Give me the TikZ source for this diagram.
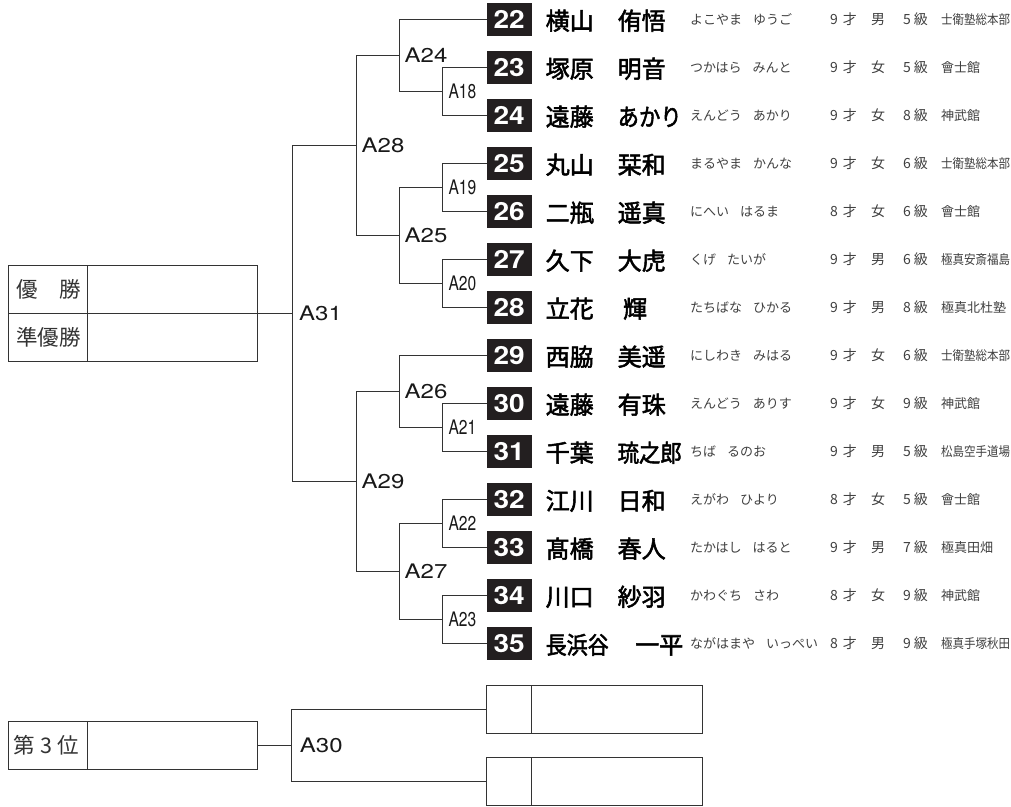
\documentclass[tikz,border=0pt]{standalone}
\usepackage{fontspec}
\usepackage{graphicx}
\newfontfamily\jp{Noto Sans CJK JP}
\newfontfamily\jpm[FakeBold=2.2]{Noto Sans CJK JP}
\newfontfamily\lat{TeX Gyre Heros}
\newcommand\fitw[2]{\sbox0{#2}\ifdim\wd0>#1\relax\resizebox{#1}{\height}{#2}\else\usebox0\fi}
\newcommand\rsp{\hspace{11pt}}
\definecolor{ink}{HTML}{333333}
\definecolor{txt}{HTML}{404040}
\definecolor{boxfill}{HTML}{231F20}
\begin{document}
\begin{tikzpicture}[x=1pt,y=-1pt,
 ln/.style={draw=ink,line width=0.9pt},
 cell/.style={draw=ink,line width=1pt,inner sep=0pt},
 numbox/.style={fill=boxfill,minimum width=45pt,minimum height=33pt,inner sep=0pt,text=white,font=\lat\bfseries\fontsize{25}{25}\selectfont},
 nm/.style={anchor=base west,inner sep=0pt,font=\jpm\fontsize{24}{24}\selectfont,text=black},
 rd/.style={anchor=base west,inner sep=0pt,font=\jp\fontsize{13}{13}\selectfont,text=txt},
 info/.style={anchor=base west,inner sep=0pt,font=\jp\fontsize{14}{14}\selectfont,text=txt},
 club/.style={anchor=base west,inner sep=0pt,font=\jp\fontsize{13}{13}\selectfont,text=txt},
 big/.style={anchor=west,inner sep=0pt,font=\lat\fontsize{20}{20}\selectfont,text=black!90},
 small/.style={anchor=west,inner sep=0pt,font=\lat\fontsize{20}{20}\selectfont,text=black!90},
 boxlab/.style={anchor=base west,inner sep=0pt,font=\jp\fontsize{21.5}{21.5}\selectfont,text=ink}
]
\fill[white] (0,0) rectangle (1011,806);
\useasboundingbox (0,0) rectangle (1011,806);

% player rows
\foreach \n/\y/\s/\gx/\g/\r/\a/\sx/\gr/\c in {
22/19.3/横山/617.5/侑悟/よこやま\rsp ゆうご/9/男/5/士衛塾総本部,
23/67.3/塚原/617.5/明音/つかはら\rsp みんと/9/女/5/會士館,
24/115.3/遠藤/617.5/あかり/えんどう\rsp あかり/9/女/8/神武館,
25/163.3/丸山/617.5/栞和/まるやま\rsp かんな/9/女/6/士衛塾総本部,
26/211.3/二瓶/617.5/遥真/にへい\rsp はるま/8/女/6/會士館,
27/259.3/久下/617.5/大虎/くげ\rsp たいが/9/男/6/極真安斎福島,
28/307.3/立花/623/輝/たちばな\rsp ひかる/9/男/8/極真北杜塾,
29/355.3/西脇/617.5/美遥/にしわき\rsp みはる/9/女/6/士衛塾総本部,
30/403.3/遠藤/617.5/有珠/えんどう\rsp ありす/9/女/9/神武館,
31/451.3/千葉/617.5/琉之郎/ちば\rsp るのお/9/男/5/松島空手道場,
32/499.3/江川/617.5/日和/えがわ\rsp ひより/8/女/5/會士館,
33/547.3/髙橋/617.5/春人/たかはし\rsp はると/9/男/7/極真田畑,
34/595.3/川口/617.5/紗羽/かわぐち\rsp さわ/8/女/9/神武館,
35/643.3/長浜谷/635/一平/ながはまや\rsp いっぺい/8/男/9/極真手塚秋田}{
  \node[numbox] (p\n) at (509.2,\y) {\scalebox{1.12}[1]{\n}};
  \node[nm] (sn\n) at (545.5,{\y+10.5}) {\fitw{63pt}{\s}};
  \node[nm] (gn\n) at (\gx,{\y+10.5}) {\fitw{64pt}{\g}};
  \node[rd] (rd\n) at (690,{\y+5}) {\r};
  \node[info] (ag\n) at (830,{\y+5}) {\a\hspace{5pt}才};
  \node[info] (sx\n) at (871,{\y+5}) {\sx};
  \node[info] (gr\n) at (903,{\y+5}) {\gr\hspace{3pt}級};
  \node[club] (cl\n) at (941,{\y+5}) {\fitw{69pt}{\c}};
}

% match points
\coordinate (A18) at (442.7,91.3);
\coordinate (A19) at (442.7,187.3);
\coordinate (A20) at (442.7,283.3);
\coordinate (A21) at (442.7,427.3);
\coordinate (A22) at (442.7,523.3);
\coordinate (A23) at (442.7,619.3);
\coordinate (A24) at (399,55.3);
\coordinate (A25) at (399,235.3);
\coordinate (A26) at (399,391.3);
\coordinate (A27) at (399,571.3);
\coordinate (A28) at (356,145.3);
\coordinate (A29) at (356,481.3);
\coordinate (A31) at (292.3,313.3);

% connectors
\draw[ln] (p23.west) -| (A18);  \draw[ln] (p24.west) -| (A18);
\draw[ln] (p25.west) -| (A19);  \draw[ln] (p26.west) -| (A19);
\draw[ln] (p27.west) -| (A20);  \draw[ln] (p28.west) -| (A20);
\draw[ln] (p30.west) -| (A21);  \draw[ln] (p31.west) -| (A21);
\draw[ln] (p32.west) -| (A22);  \draw[ln] (p33.west) -| (A22);
\draw[ln] (p34.west) -| (A23);  \draw[ln] (p35.west) -| (A23);
\draw[ln] (p22.west) -| (A24);  \draw[ln] (A18) -| (A24);
\draw[ln] (A19) -| (A25);  \draw[ln] (A20) -| (A25);
\draw[ln] (p29.west) -| (A26);  \draw[ln] (A21) -| (A26);
\draw[ln] (A22) -| (A27);  \draw[ln] (A23) -| (A27);
\draw[ln] (A24) -| (A28);  \draw[ln] (A25) -| (A28);
\draw[ln] (A26) -| (A29);  \draw[ln] (A27) -| (A29);
\draw[ln] (A28) -| (A31);  \draw[ln] (A29) -| (A31);

% match labels
\foreach \m in {18,19,20,21,22,23}{
  \node[small] (l\m) at ([xshift=5.6pt]A\m) {\scalebox{0.78}[1]{A\m}};
}
\foreach \m in {24,25,26,27,28,29}{
  \node[big] (l\m) at ([xshift=5.5pt]A\m) {\scalebox{1.2}[1]{A\m}};
}
\node[big] (l31) at ([xshift=6.7pt]A31) {\scalebox{1.2}[1]{A31}};

% winner boxes
\node[cell,minimum width=79pt,minimum height=48pt] (w1l) at (47.5,289.3) {};
\node[cell,minimum width=170.3pt,minimum height=48pt] (w1v) at (172.15,289.3) {};
\node[cell,minimum width=79pt,minimum height=48pt] (w2l) at (47.5,337.3) {};
\node[cell,minimum width=170.3pt,minimum height=48pt] (w2v) at (172.15,337.3) {};
\node[boxlab] (t1) at (16,297.5) {優　勝};
\node[boxlab] (t2) at (16,345.5) {準優勝};
\draw[ln] (A31) -- (A31 -| w1v.east);

% third place
\coordinate (A30) at (291.7,745.4);
\node[cell,minimum width=79pt,minimum height=47.6pt] (b3l) at (47.5,745.5) {};
\node[cell,minimum width=170.3pt,minimum height=47.6pt] (b3v) at (172.15,745.5) {};
\node[boxlab] (t3) at (13.5,753.7) {第\hspace{5pt}3\hspace{5pt}位};
\node[cell,minimum width=45pt,minimum height=47.6pt] (b1n) at (509.2,709.5) {};
\node[cell,minimum width=170.6pt,minimum height=47.6pt] (b1m) at (617,709.5) {};
\node[cell,minimum width=45pt,minimum height=47.6pt] (b2n) at (509.2,781.3) {};
\node[cell,minimum width=170.6pt,minimum height=47.6pt] (b2m) at (617,781.3) {};
\draw[ln] (b1n.west) -| (A30);
\draw[ln] (b2n.west) -| (A30);
\draw[ln] (A30) -- (A30 -| b3v.east);
\node[big] (l30) at ([xshift=8pt]A30) {\scalebox{1.2}[1]{A30}};
\end{tikzpicture}
\end{document}
